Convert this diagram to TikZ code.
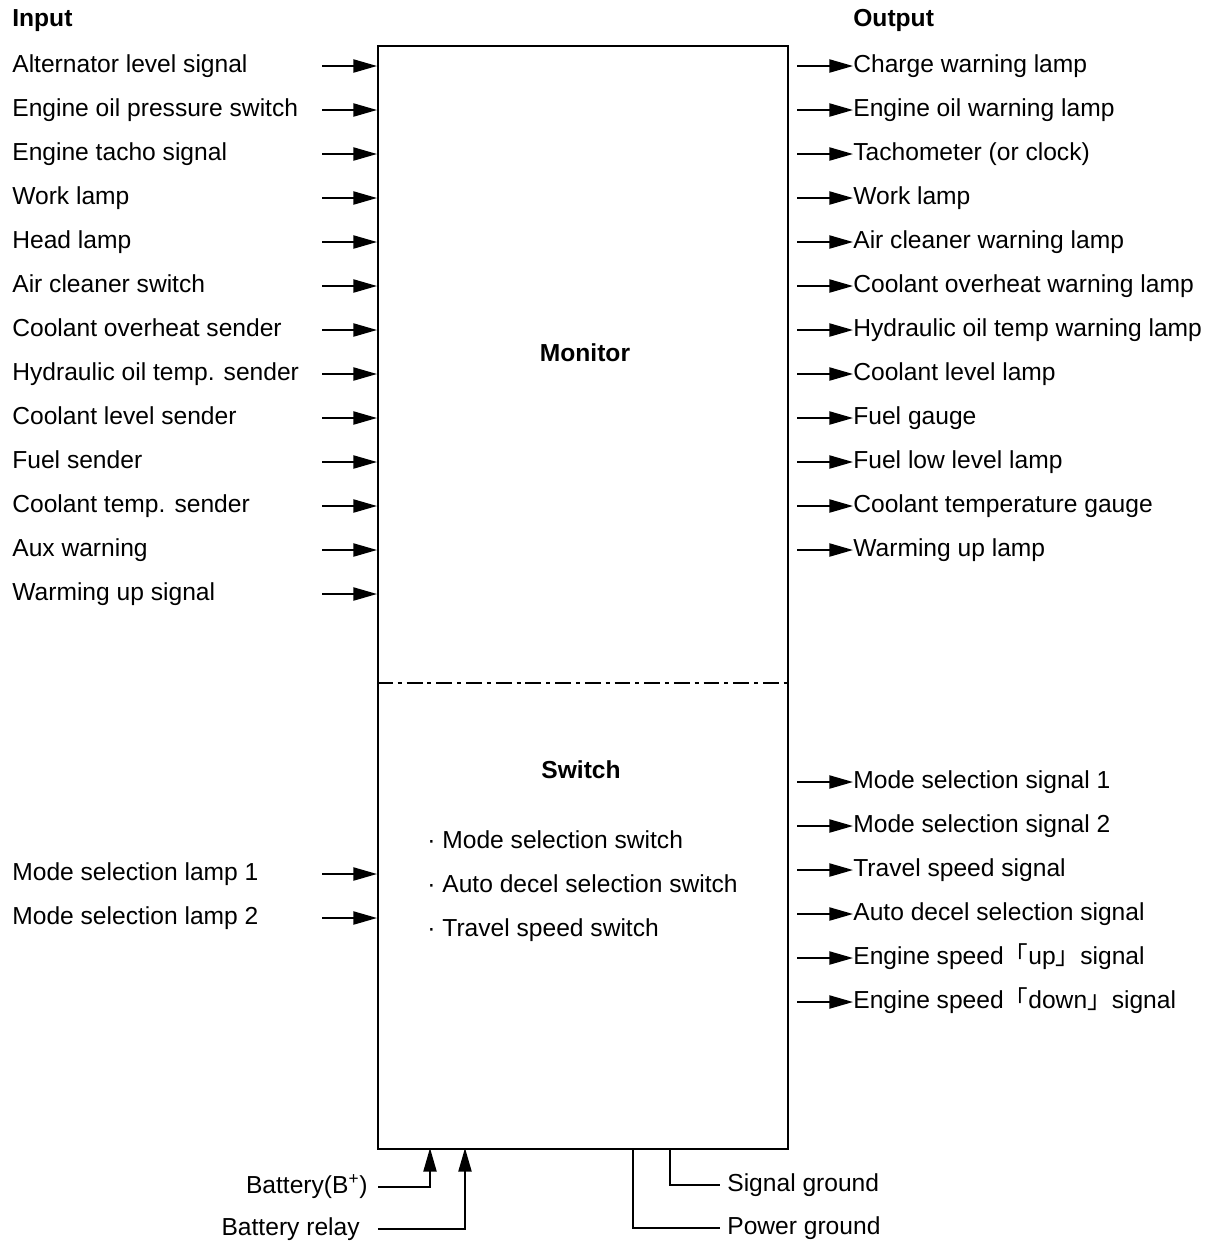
\documentclass[tikz,border=0pt]{standalone}
\usepackage{fontspec}
\setmainfont{Liberation Sans}
\newfontfamily\cjk{Noto Sans CJK KR}
\usetikzlibrary{arrows.meta}

\tikzset{
	sig/.style={line width=1pt, -{Triangle[length=13.5pt, width=7.5pt]}},
	wire/.style={line width=1pt},
	lbl/.style={anchor=west, inner sep=0pt, text height=0.95em, text depth=0.23em, font=\fontsize{14}{16}\selectfont},
	ttl/.style={lbl, font=\fontsize{14}{16}\selectfont\bfseries}
}

\begin{document}
\begin{tikzpicture}[x=0.02cm, y=-0.02cm]
		\useasboundingbox (0,0) rectangle (1213,1242);
		% the unit
		\node[draw, line width=1pt, inner sep=0pt, anchor=north west, minimum width=8.2cm, minimum height=22.06cm] (unit) at (377,45) {};
		\coordinate (sep) at (377,683);
		\draw[wire, dash pattern=on 9pt off 2.8pt on 2.3pt off 2.8pt] (sep) -- (sep -| unit.east);
		\node[ttl] (inhead) at (12,20) {Input};
		\node[ttl] (outhead) at (853,20) {Output};
		\node[ttl, anchor=center] (mon) at (585,355) {Monitor};
		\node[ttl, anchor=center] (sw) at (581,772) {Switch};
		\foreach \t [count=\i, evaluate=\i as \y using 798+44*\i] in {Mode selection switch, Auto decel selection switch, Travel speed switch}
			\node[lbl] (bul\i) at (427,\y) {·\ \t};
		% inputs
		\foreach \t [count=\i, evaluate=\i as \y using 22+44*\i] in {Alternator level signal, Engine oil pressure switch, Engine tacho signal, Work lamp, Head lamp, Air cleaner switch, Coolant overheat sender, Hydraulic oil temp. sender, Coolant level sender, Fuel sender, Coolant temp. sender, Aux warning, Warming up signal}{
			\node[lbl] (inp\i) at (12,\y) {\t};
			\coordinate (ia\i) at (322,\y);
			\draw[sig] (ia\i) -- (ia\i -| unit.west);
		}
		\foreach \t [count=\i, evaluate=\i as \y using 830+44*\i] in {Mode selection lamp 1, Mode selection lamp 2}{
			\node[lbl] (swin\i) at (12,\y) {\t};
			\coordinate (sa\i) at (322,\y);
			\draw[sig] (sa\i) -- (sa\i -| unit.west);
		}
		% outputs
		\foreach \t [count=\i, evaluate=\i as \y using 22+44*\i] in {Charge warning lamp, Engine oil warning lamp, Tachometer (or clock), Work lamp, Air cleaner warning lamp, Coolant overheat warning lamp, Hydraulic oil temp warning lamp, Coolant level lamp, Fuel gauge, Fuel low level lamp, Coolant temperature gauge, Warming up lamp}{
			\node[lbl] (out\i) at (853,\y) {\t};
			\coordinate (oa\i) at (797,\y);
			\draw[sig] (oa\i) -- (out\i.west);
		}
		\foreach \t [count=\i, evaluate=\i as \y using 738+44*\i] in {Mode selection signal 1, Mode selection signal 2, Travel speed signal, Auto decel selection signal, {Engine speed{\cjk 「}up{\cjk 」}signal}, {Engine speed{\cjk 「}down{\cjk 」}signal}}{
			\node[lbl] (swout\i) at (853,\y) {\t};
			\coordinate (so\i) at (797,\y);
			\draw[sig] (so\i) -- (swout\i.west);
		}
		% supply and ground
		\node[lbl, anchor=east] (bat) at (368,1187) {Battery(B\textsuperscript{+})};
		\node[lbl, anchor=east] (rel) at (360,1229) {Battery relay};
		\node[lbl] (sgnd) at (727,1185) {Signal ground};
		\node[lbl] (pgnd) at (727,1228) {Power ground};
		\coordinate (batin) at (430,1148);
		\coordinate (relin) at (465,1148);
		\coordinate (sgout) at (670,1148);
		\coordinate (pgout) at (633,1148);
		\draw[sig] ([xshift=0.2cm]bat.east) -| (batin);
		\draw[sig] ([xshift=0.36cm]rel.east) -| (relin);
		\draw[wire] (sgout) |- ([xshift=-0.14cm]sgnd.west);
		\draw[wire] (pgout) |- ([xshift=-0.14cm]pgnd.west);
\end{tikzpicture}
\end{document}
